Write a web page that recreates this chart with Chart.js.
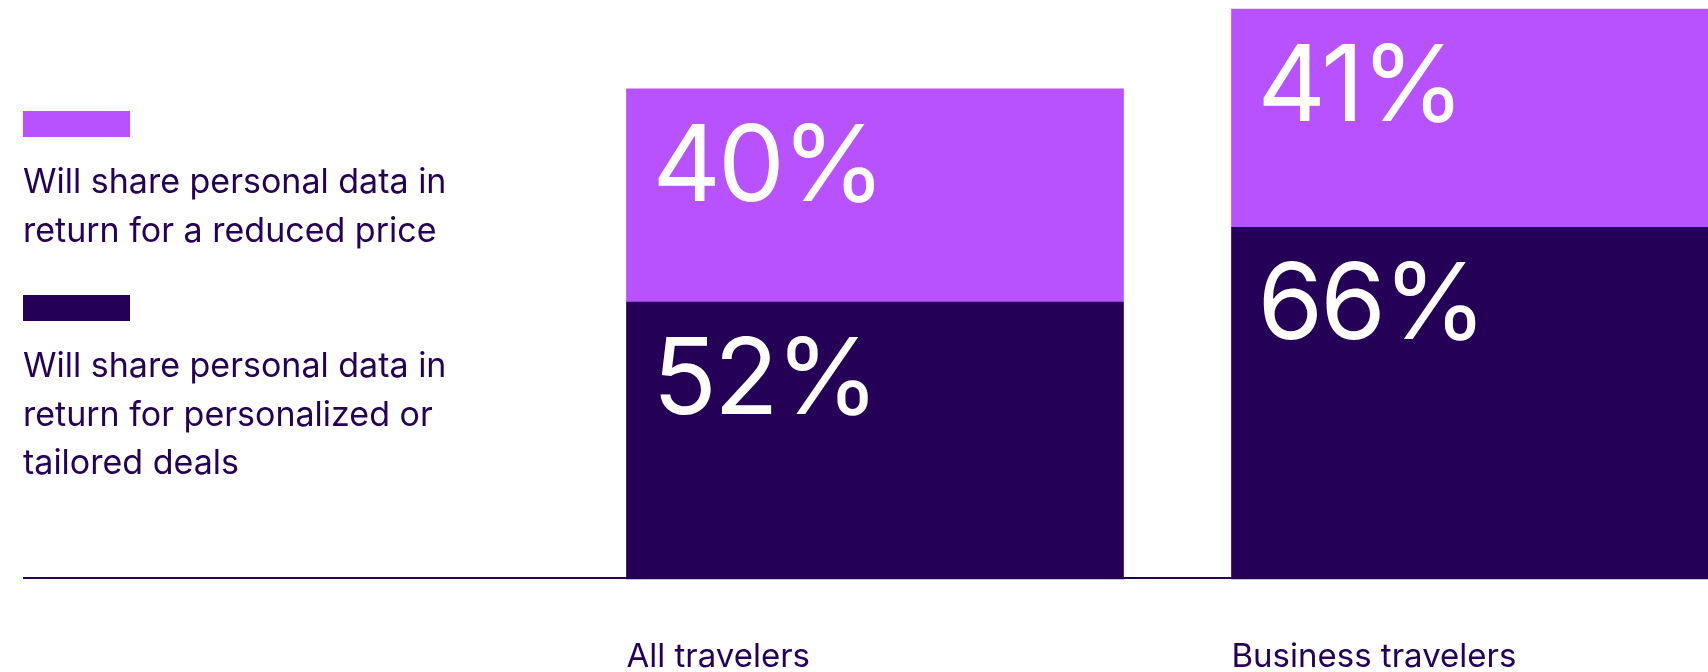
<!DOCTYPE html>
<html lang="en">
<head>
    <meta charset="UTF-8">
    <title>personal_data_sharing</title>
    <script src="https://cdn.jsdelivr.net/npm/chart.js"></script>
    <style>
        body { margin: 0; background: #fff; }
        #wrap { width: 1708px; height: 672px; position: relative; }
    </style>
</head>
<body>
    <div id="wrap"><canvas id="shareChart"></canvas></div>
    <script>
        const categories = ['All travelers', 'Business travelers'];
        const tailoredDeals = [52, 66];
        const reducedPrice = [40, 41];
        const reducedPriceLines = ['Will share personal data in', 'return for a reduced price'];
        const tailoredDealsLines = ['Will share personal data in', 'return for personalized or', 'tailored deals'];

        const LIGHT = '#b752fe';
        const DARK = '#240056';
        const FONT = 'Inter, "Liberation Sans", sans-serif';

        // legend, value labels, category labels and the base line
        const decorations = {
            id: 'decorations',
            beforeDatasetsDraw(chart) {
                const ctx = chart.ctx;
                const y0 = chart.scales.y.getPixelForValue(0);
                ctx.save();
                ctx.strokeStyle = DARK;
                ctx.lineWidth = 2;
                ctx.beginPath();
                ctx.moveTo(23, y0 - 1);
                ctx.lineTo(chart.width, y0 - 1);
                ctx.stroke();
                ctx.restore();
            },
            afterDatasetsDraw(chart) {
                const ctx = chart.ctx;
                ctx.save();

                // big percentages inside each segment
                ctx.fillStyle = '#ffffff';
                ctx.font = '400 106px ' + FONT;
                ctx.letterSpacing = '-3px';
                ctx.textAlign = 'left';
                ctx.textBaseline = 'alphabetic';
                chart.data.datasets.forEach((ds, i) => {
                    chart.getDatasetMeta(i).data.forEach((bar, j) => {
                        const top = Math.min(bar.y, bar.base);
                        ctx.fillText(ds.data[j] + '%', bar.x - bar.width / 2 + 26, top + 112);
                    });
                });
                ctx.letterSpacing = '0px';

                // category names under the bars
                ctx.fillStyle = DARK;
                ctx.font = '400 33px ' + FONT;
                chart.getDatasetMeta(0).data.forEach((bar, j) => {
                    ctx.fillText(categories[j], bar.x - bar.width / 2, 667);
                });

                // legend on the left
                ctx.font = '400 34px ' + FONT;
                const items = [
                    { color: LIGHT, lines: reducedPriceLines, top: 111 },
                    { color: DARK, lines: tailoredDealsLines, top: 295 }
                ];
                items.forEach(item => {
                    ctx.fillStyle = item.color;
                    ctx.fillRect(23, item.top, 107, 26);
                    ctx.fillStyle = DARK;
                    item.lines.forEach((line, k) => {
                        ctx.fillText(line, 23, item.top + 82 + k * 48.5);
                    });
                });
                ctx.restore();
            }
        };

        const ctx = document.getElementById('shareChart').getContext('2d');
        const shareChart = new Chart(ctx, {
            type: 'bar',
            data: {
                labels: categories,
                datasets: [{
                    label: tailoredDealsLines.join(' '),
                    data: tailoredDeals,
                    backgroundColor: DARK,
                    clip: false
                }, {
                    label: reducedPriceLines.join(' '),
                    data: reducedPrice,
                    backgroundColor: LIGHT,
                    clip: false
                }]
            },
            options: {
                responsive: true,
                maintainAspectRatio: false,
                animation: false,
                barThickness: 497,
                layout: {
                    padding: { left: 875, right: 228, top: 9, bottom: 93 }
                },
                plugins: {
                    legend: { display: false },
                    tooltip: { enabled: false }
                },
                scales: {
                    x: {
                        stacked: true,
                        offset: false,
                        display: false
                    },
                    y: {
                        stacked: true,
                        min: 0,
                        max: 107,
                        display: false
                    }
                }
            },
            plugins: [decorations]
        });
    </script>
</body>
</html>
